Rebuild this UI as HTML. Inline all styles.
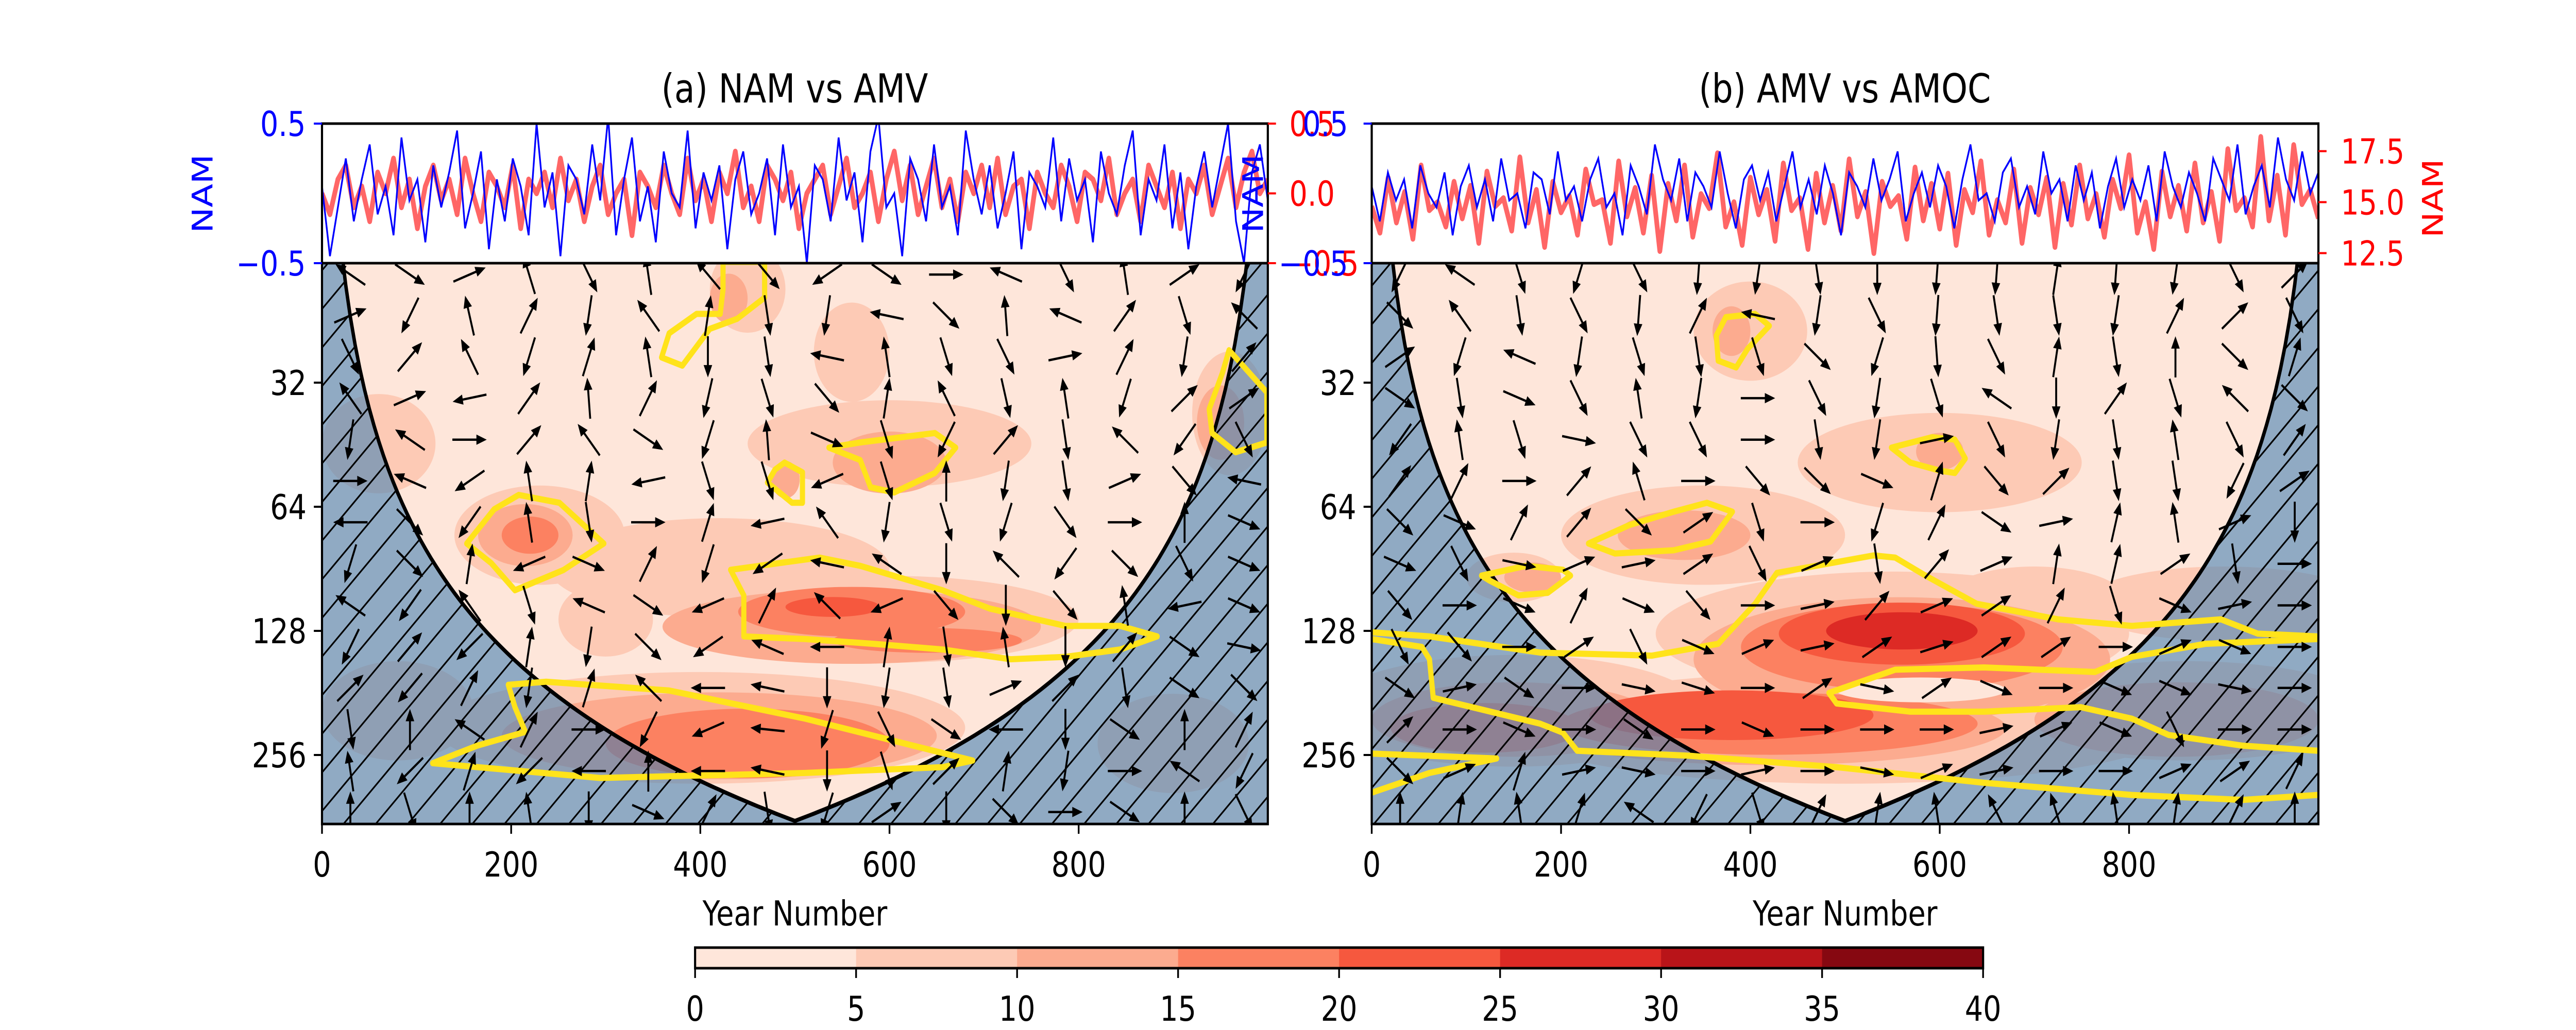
<!DOCTYPE html>
<html><head><meta charset="utf-8"><style>
html,body{margin:0;padding:0;background:#fff;width:100vw;height:100vh;overflow:hidden;}
svg{display:block;position:absolute;left:0;top:0;width:100vw;height:100vh;font-family:"DejaVu Sans","Liberation Sans",sans-serif;}
</style></head><body>
<svg id="fig" viewBox="0 0 6000 2000" preserveAspectRatio="none" xmlns="http://www.w3.org/2000/svg">
<defs>
<pattern id="hatch" patternUnits="userSpaceOnUse" width="75" height="75">
<path d="M-10,85 L85,-10 M-10,10 L10,-10 M65,85 L85,65" stroke="#000" stroke-width="3.5"/>
</pattern>
<clipPath id="clipA"><rect x="750" y="511" width="2203" height="1089"/></clipPath>
<clipPath id="clipB"><rect x="3195" y="511" width="2205" height="1089"/></clipPath>
<clipPath id="clipTA"><rect x="750" y="240" width="2203" height="271"/></clipPath>
<clipPath id="clipTB"><rect x="3195" y="240" width="2205" height="271"/></clipPath>
</defs>
</svg>
<script>
// ---------- data ----------
const levels = [0,5,10,15,20,25,30,35,40];
const levelColors = ['#fee6da','#fdcab5','#fcab8f','#fc8161','#f6583e','#dd2a25','#b91419','#860811'];
const yTicks = [32,64,128,256];
const xTicks = [0,200,400,600,800];

// time series panel (a)
const namA = [0.05,-0.45,-0.1,0.25,-0.2,0.1,0.35,-0.15,0.05,-0.3,0.4,-0.05,0.1,-0.35,0.2,-0.1,0.15,0.45,-0.25,0.0,0.3,-0.4,0.1,-0.2,0.25,0.05,-0.3,0.5,-0.1,0.15,-0.45,0.2,0.1,-0.15,0.35,-0.05,0.55,-0.3,0.1,0.4,-0.2,0.05,-0.35,0.3,0.0,-0.1,0.45,-0.25,0.15,-0.05,0.2,-0.4,0.1,0.3,-0.15,0.0,0.25,-0.3,0.35,-0.1,0.05,-0.5,0.2,0.1,-0.2,0.4,-0.05,0.15,-0.35,0.3,0.55,-0.1,0.0,-0.45,0.25,0.1,-0.2,0.35,-0.1,0.05,-0.3,0.45,0.1,-0.15,0.2,-0.25,0.0,0.3,-0.4,0.15,0.05,-0.1,0.4,-0.2,0.25,-0.05,0.1,-0.35,0.3,0.0,-0.15,0.2,0.45,-0.3,0.1,-0.05,0.35,-0.25,0.15,-0.4,0.05,0.3,-0.1,0.2,0.5,-0.2,-0.5,0.15,0.35,-0.05];
const amvA = [0.0,-0.15,0.1,0.2,-0.1,0.05,-0.2,0.15,0.0,0.25,-0.1,0.1,-0.25,0.05,0.2,-0.05,0.1,-0.15,0.25,0.0,-0.2,0.15,0.05,-0.1,0.2,-0.25,0.1,0.0,0.15,-0.1,0.25,-0.05,0.1,-0.2,0.05,0.2,-0.15,0.0,0.1,-0.3,0.15,0.05,-0.1,0.2,0.0,-0.15,0.25,-0.05,0.1,-0.2,0.15,0.0,0.3,-0.1,0.05,-0.2,0.2,0.1,-0.05,0.15,-0.25,0.0,0.1,0.2,-0.15,0.05,0.25,-0.1,0.0,0.15,-0.2,0.1,0.3,-0.05,0.2,-0.15,0.05,0.25,-0.1,0.1,-0.2,0.15,0.0,0.2,-0.1,0.25,-0.15,0.05,0.1,-0.25,0.15,0.0,-0.1,0.2,0.05,-0.2,0.15,0.1,-0.05,0.25,-0.15,0.0,0.1,-0.2,0.2,0.05,-0.1,0.15,-0.25,0.1,0.0,0.2,-0.15,0.05,0.25,-0.1,0.15,0.3,0.0,0.1];
// time series panel (b)
const amvB = [0.05,-0.2,0.15,-0.05,0.1,-0.25,0.2,0.0,-0.1,0.15,-0.3,0.05,0.2,-0.1,0.1,-0.2,0.25,-0.05,0.0,-0.25,0.15,0.1,-0.15,0.3,-0.05,0.05,-0.2,0.1,0.25,-0.1,0.0,-0.3,0.2,0.05,-0.15,0.35,0.1,-0.05,0.25,-0.2,0.15,0.05,-0.1,0.3,0.0,-0.25,0.1,0.2,-0.05,0.15,-0.2,0.05,0.3,-0.1,0.1,-0.15,0.2,0.0,-0.3,0.15,0.05,-0.1,0.25,-0.05,0.1,0.3,-0.2,0.0,0.15,-0.1,0.2,0.05,-0.25,0.1,0.35,-0.05,0.0,-0.2,0.15,0.25,-0.1,0.05,-0.15,0.3,0.0,0.1,-0.2,0.2,-0.05,0.15,-0.25,0.05,0.25,-0.1,0.1,-0.05,0.2,-0.2,0.3,0.05,-0.1,0.15,0.0,-0.2,0.25,0.1,-0.05,0.35,-0.15,0.05,0.2,-0.1,0.4,0.1,-0.05,0.3,0.0,0.15];
const amocB = [14.8,13.5,16.2,14.0,15.5,13.2,16.8,14.6,15.0,13.8,16.0,14.2,15.8,13.0,16.5,14.8,15.2,13.6,17.2,14.0,15.6,12.8,16.0,14.5,15.3,13.4,16.6,14.9,15.1,13.0,17.0,14.3,15.7,13.5,16.3,12.6,15.9,14.1,16.8,13.3,15.4,14.7,17.4,13.8,15.0,12.9,16.2,14.4,15.6,13.1,16.9,14.6,15.2,12.7,16.4,14.0,15.8,13.6,17.1,14.3,15.5,12.5,16.0,14.8,15.3,13.2,16.7,14.1,15.9,13.7,16.4,12.9,15.6,14.5,17.0,13.4,15.1,14.0,16.6,13.0,15.7,14.4,16.2,12.8,15.9,13.9,16.8,14.2,15.4,13.3,16.1,14.7,17.3,13.5,15.0,12.7,16.5,14.3,15.8,13.6,16.9,14.0,15.5,13.1,17.6,14.6,15.2,13.8,18.2,14.1,16.3,13.4,17.8,14.9,15.6,14.2];

// coherence blobs panel (a): year, period, half-width(years), half-height(octaves), level
const blobYearA   = [450,560,600,420,600,230,400,960,300,60,80,900, 430,215,600,490,560,420,950, 220,560,450,640, 540];
const blobPeriodA = [19,27,45,90,120,75,220,38,120,45,200,240, 20,75,50,55,125,230,40, 75,115,240,135, 112];
const blobRxA     = [40,40,150,180,200,90,280,40,50,60,80,80, 20,50,60,15,200,230,25, 30,120,150,100, 50];
const blobRyA     = [0.35,0.4,0.35,0.4,0.35,0.4,0.45,0.5,0.3,0.4,0.4,0.4, 0.2,0.25,0.25,0.15,0.3,0.35,0.3, 0.15,0.2,0.28,0.1, 0.08];
const blobLevelA  = [1,1,1,1,1,1,1,1,1,1,1,1, 2,2,2,2,2,2,2, 3,3,3,3, 4];
// coherence blobs panel (b)
const blobYearB   = [400,600,350,150,550,500,700,150,860,900, 380,600,330,170,560,420,150,850, 560,420,120, 560,380, 560, 580];
const blobPeriodB = [24,50,75,95,130,220,110,200,200,110, 24,47,75,95,150,220,210,210, 140,215,220, 130,205, 128, 178];
const blobRxB     = [60,150,150,50,250,350,100,200,200,150, 20,25,70,30,220,250,150,150, 170,220,100, 130,150, 80, 90];
const blobRyB     = [0.4,0.4,0.4,0.2,0.5,0.45,0.3,0.45,0.4,0.3, 0.2,0.15,0.2,0.12,0.5,0.3,0.3,0.3, 0.35,0.25,0.2, 0.25,0.2, 0.15, 0.1];
const blobLevelB  = [1,1,1,1,1,1,1,1,1,1, 2,2,2,2,2,2,2,2, 3,3,3, 4,4, 5, 0];

// significance contours (year, period)
const sigA1 = [[424,16.3],[468,16.3],[468,19.9],[439,22.4],[410,23.7],[381,29.1],[359,27.8],[367,24.3],[396,21.8],[421,21.8],[424,19.0]];
const sigA2 = [[959,26.7],[999,33.8],[999,44.7],[966,47.2],[941,42.4],[938,37.1],[952,30.3]];
const sigA3 = [[489,50.0],[508,52.8],[508,62.6],[497,62.6],[471,55.9],[479,52.0]];
const sigA4 = [[536,46.0],[569,44.7],[648,42.4],[670,46.0],[648,53.0],[605,59.1],[580,57.4],[569,49.3]];
const sigA5 = [[208,59.9],[251,62.6],[298,78.6],[255,91.2],[204,102],[179,87.7],[153,78.6],[182,64.9]];
const sigA6 = [[432,91],[526,85],[569,89],[656,102],[706,113],[786,124.5],[844,124.5],[883,132],[844,142],[786,148],[728,150],[656,142],[583,137.6],[511,134],[446,132],[446,105]];
const sigA7 = [[197,173],[237,170],[367,178.6],[511,209],[688,264],[656,274],[511,283],[294,291],[117,268],[164,243],[215,225],[204,196]];
const sigB1 = [[374,22.2],[405,21.8],[420,23.3],[397,26.5],[385,29.4],[366,28.3],[364,24.6]];
const sigB2 = [[549,46],[592,43.4],[616,44],[627,48.9],[616,53],[600,52.3],[569,50]];
const sigB3 = [[229,78.6],[272,70.9],[319,65.8],[354,62.6],[381,65.8],[358,77.7],[319,81.6],[257,83.1]];
const sigB4 = [[116,94],[163,89],[202,91],[210,94],[186,103.5],[155,105],[124,96.5]];
const sigB5 = [[0,129],[61,132],[178,144.5],[296,147],[366,137.6],[405,110],[428,92.6],[530,84],[553,85],[585,94],[639,110],[725,120],[803,124.5],[897,120],[936,130],[999,132]];
const sigB6 = [[0,134],[53,140],[61,150],[65,186],[178,215],[202,226],[217,250],[335,257],[491,274],[647,299],[803,320],[920,329],[999,320]];
const sigB7 = [[999,134],[881,137.6],[803,148],[764,161],[647,157],[553,159],[483,181],[491,192],[569,201],[647,201],[749,196],[803,209],[842,229],[920,243],[999,250]];
const sigB8 = [[0,254],[132,261],[61,283],[0,316]];
const sigLinesA = [sigA1,sigA2,sigA3,sigA4,sigA5,sigA6,sigA7];
const sigLinesB = [sigB1,sigB2,sigB3,sigB4,sigB5,sigB6,sigB7,sigB8];

// phase arrows: grid rows (periods) x cols (years), angles in degrees
const arrowPeriods = [17.5,22,27.7,34.9,44,55.4,69.8,88,111,140,176,222,280,352];
const arrowYears = [30,93,156,219,282,345,408,471,534,597,660,723,786,849,912,975];
const phaseA = [
[150,-30,20,110,-60,100,135,-45,-150,-30,0,160,-60,100,30,-120],
[20,-120,105,60,-100,130,80,-80,-100,170,-40,95,160,50,-70,140],
[-60,45,120,-110,70,100,-90,-80,170,100,-70,-60,10,60,-100,45],
[130,20,-170,50,95,60,-105,-70,-45,80,120,-75,100,-110,40,30],
[-100,150,0,45,130,-30,-110,95,-20,-70,-120,45,-80,140,-130,-60],
[0,160,-150,100,80,-170,-70,-70,-160,-70,90,-100,-80,20,-45,170],
[180,-40,-130,100,-80,0,70,-170,130,-100,-70,-110,-50,0,90,-20],
[-110,-40,80,-160,-20,60,-110,-150,170,150,-90,140,-130,-40,-60,-20],
[150,-130,130,-70,160,-30,-160,60,140,-160,-45,-90,-45,100,-170,-20],
[-120,45,-140,80,-100,-40,-150,160,180,80,-80,100,-90,45,-30,-10],
[40,-135,60,-100,70,140,180,170,-90,-100,-80,20,40,-80,-30,-40],
[-80,90,150,60,0,-120,-160,175,-110,-60,-30,180,-90,-30,90,60],
[100,-140,70,-140,180,90,180,170,-90,-70,40,80,-100,0,150,-120],
[90,-70,90,100,-90,-20,60,-80,-110,30,-90,-40,0,-30,90,-60]];
const phaseB = [
[-120,150,-70,-110,-60,-95,-100,-80,-90,-95,-95,80,-95,-100,-60,40],
[-40,130,-80,-60,-95,60,170,-100,-60,-95,-80,-80,-100,60,40,-60],
[30,-110,160,-100,-70,-80,-70,-40,-110,-85,-60,80,-80,90,-40,70],
[-30,-80,-20,-60,100,-100,0,-60,-100,-70,150,-90,50,-70,140,-40],
[-130,100,-70,-10,-60,-60,0,-80,-100,10,-60,-100,-80,100,-60,50],
[50,60,0,45,110,0,-45,-40,-20,70,-45,40,-80,-80,-120,30],
[-40,-20,60,45,-40,30,-70,0,-110,60,-30,10,75,100,20,-90],
[-20,-60,-10,20,10,30,-60,20,-80,45,20,80,75,30,-80,0],
[-45,0,-20,60,-20,-45,0,10,45,20,30,60,-70,-20,10,0],
[-60,-45,0,30,-60,-20,20,10,30,15,30,30,0,20,-20,0],
[-30,10,-30,0,-10,-15,0,30,-10,30,-20,0,-20,-20,-10,0],
[40,0,-20,0,-30,0,-20,0,0,0,10,20,-20,-60,0,0],
[-40,20,70,10,-10,0,10,0,-10,20,10,0,0,20,30,60],
[90,80,100,70,150,-120,-70,60,80,100,120,110,100,80,60,90]];

// ---------- drawing ----------
const NS='http://www.w3.org/2000/svg';
const svg=document.getElementById('fig');
function el(tag,attrs,parent){const e=document.createElementNS(NS,tag);for(const k in attrs)e.setAttribute(k,attrs[k]);(parent||svg).appendChild(e);return e;}
function txt(s,x,y,size,fill,anchor,parent,rot){const t=el('text',{x:x,y:y,'font-size':size,fill:fill,'text-anchor':anchor||'middle'},parent);if(rot)t.setAttribute('transform','rotate('+rot+' '+x+' '+y+')');t.textContent=s;return t;}

const TOP=240, MID=511, BOT=1600;
const Y32=743, OCT=241, P_TOP=16.4, P_BOT=375;
function yP(p){return Y32+Math.log2(p/32)*OCT;}
function makeX(L,W){return y=>L+y/1000*W;}

function panel(id,L,W,clip,clipT,blobs,sig,phase,ts){
  const xY=makeX(L,W);
  const g=el('g',{'clip-path':'url(#'+clip+')'});
  
  
  el('rect',{x:L,y:MID,width:W,height:BOT-MID,fill:levelColors[0]},g);
  const [by,bp,brx,bry,bl]=blobs;
  const order=[...bl.keys()].sort((a,b)=>(bl[a]===0?99:bl[a])-(bl[b]===0?99:bl[b]));
  for(const i of order){
    const e=el('ellipse',{cx:xY(by[i]),cy:yP(bp[i]),rx:brx[i]/1000*W,ry:bry[i]*OCT,fill:levelColors[bl[i]]},g);
    
    
  }
  let cone='';
  for(let t=0;t<=1000;t+=5){const p=Math.max(P_TOP*0.9,Math.min(0.74*Math.min(t,1000-t),P_BOT*1.05));cone+=(t?'L':'M')+xY(t).toFixed(1)+','+yP(p).toFixed(1);}
  const outer='M'+L+','+MID+'H'+(L+W)+'V'+BOT+'H'+L+'Z';
  const coi=el('path',{d:outer+cone+'Z','fill-rule':'evenodd',fill:'rgba(70,130,180,0.6)'},g);
  
  
  el('path',{d:outer+cone+'Z','fill-rule':'evenodd',fill:'url(#hatch)'},g);
  el('path',{d:cone,fill:'none',stroke:'#000','stroke-width':8},g);
  for(const line of sig){
    const closed = line[0][0]>1 && line[0][0]<998;
    const c=el('path',{d:line.map((q,i)=>(i?'L':'M')+xY(q[0]).toFixed(1)+','+yP(q[1]).toFixed(1)).join('')+(closed?'Z':''),fill:'none',stroke:'#ffe31a','stroke-width':12,'stroke-linejoin':'round'},g);
    
    
  }
  for(let r=0;r<arrowPeriods.length;r++)for(let c=0;c<arrowYears.length;c++){
    const a=phase[r][c]*Math.PI/180, cx=xY(arrowYears[c]), cy=yP(arrowPeriods[r]);
    const dx=Math.cos(a), dy=-Math.sin(a), Lh=40;
    const x2=cx+dx*Lh, y2=cy+dy*Lh, x1=cx-dx*Lh, y1=cy-dy*Lh;
    const ag=el('g',{},g);
    
    
    el('line',{x1:x1,y1:y1,x2:x2-dx*10,y2:y2-dy*10,stroke:'#000','stroke-width':4.5},ag);
    const hx=x2-dx*24, hy=y2-dy*24;
    el('polygon',{points:x2+','+y2+' '+(hx-dy*10)+','+(hy+dx*10)+' '+(hx+dy*10)+','+(hy-dx*10),fill:'#000'},ag);
  }
  const tg=el('g',{'clip-path':'url(#'+clipT+')'});
  
  
  el('rect',{x:L,y:TOP,width:W,height:MID-TOP,fill:'#fff'},tg);
  const [blue,bMap,red,rMap]=ts;
  const line=(arr,map)=>arr.map((v,i)=>(i?'L':'M')+xY(i/(arr.length-1)*1000).toFixed(1)+','+map(v).toFixed(1)).join('');
  const rl=el('path',{d:line(red,rMap),fill:'none',stroke:'rgba(255,0,0,0.6)','stroke-width':11,'stroke-linejoin':'round'},tg);
  
  
  const bline=el('path',{d:line(blue,bMap),fill:'none',stroke:'#0000ff','stroke-width':4},tg);
  
  
  el('rect',{x:L,y:TOP,width:W,height:MID-TOP,fill:'none',stroke:'#000','stroke-width':5});
  el('rect',{x:L,y:MID,width:W,height:BOT-MID,fill:'none',stroke:'#000','stroke-width':5});
  for(const t of xTicks){const x=xY(t);el('line',{x1:x,y1:BOT,x2:x,y2:BOT+19,stroke:'#000','stroke-width':4});
    const tl=txt(String(t),x,1702,66.7,'#000');}
  for(const p of yTicks){const y=yP(p);el('line',{x1:L-19,y1:y,x2:L,y2:y,stroke:'#000','stroke-width':4});
    const tl=txt(String(p),L-36,y+24,66.7,'#000','end');}
  const xl=txt('Year Number',L+W/2,1797,66.7,'#000');
  
  
  return xY;
}

const mapPM=v=>MID-(v+0.5)*(MID-TOP);
const mapAmoc=v=>392.5-(v-15)*39.6;

panel('a',750,2203,'clipA','clipTA',[blobYearA,blobPeriodA,blobRxA,blobRyA,blobLevelA],sigLinesA,phaseA,[namA,mapPM,amvA,mapPM]);
panel('b',3195,2205,'clipB','clipTB',[blobYearB,blobPeriodB,blobRxB,blobRyB,blobLevelB],sigLinesB,phaseB,[amvB,mapPM,amocB,mapAmoc]);

function tick(x1,x2,y,col){el('line',{x1:x1,y1:y,x2:x2,y2:y,stroke:col,'stroke-width':4});}
[[0.5,'0.5'],[-0.5,'\u22120.5']].forEach(([v,s])=>{const y=mapPM(v);tick(731,750,y,'#00f');const t=txt(s,712,y+24,66.7,'#00f','end');});
[[0.5,'0.5'],[0,'0.0'],[-0.5,'\u22120.5']].forEach(([v,s])=>{const y=mapPM(v);tick(2953,2972,y,'#f00');const t=txt(s,3003,y+24,66.7,'#f00','start');});
[[0.5,'0.5'],[-0.5,'\u22120.5']].forEach(([v,s])=>{const y=mapPM(v);tick(3176,3195,y,'#00f');const t=txt(s,3140,y+24,66.7,'#00f','end');});
[[17.5,'17.5'],[15,'15.0'],[12.5,'12.5']].forEach(([v,s])=>{const y=mapAmoc(v);tick(5400,5419,y,'#f00');const t=txt(s,5452,y+24,66.7,'#f00','start');});
let t;
t=txt('NAM',495,376,66.7,'#00f','middle',null,-90);
t=txt('NAM',2942,376,66.7,'#00f','middle',null,-90);
t=txt('NAM',5690,385,66.7,'#f00','middle',null,-90);
t=txt('(a) NAM vs AMV',1851,199,77.8,'#000');
t=txt('(b) AMV vs AMOC',4297,199,77.8,'#000');

const CBL=1619, CBW=3000, CBT=1840, CBH=40;
const cb=el('g',{});


const cbx=v=>CBL+(v-levels[0])/(levels[levels.length-1]-levels[0])*CBW;
for(let i=0;i<levels.length-1;i++){
  const r=el('rect',{x:cbx(levels[i]),y:CBT,width:cbx(levels[i+1])-cbx(levels[i])+0.5,height:CBH,fill:levelColors[i]},cb);
  
  
}
el('rect',{x:CBL,y:CBT,width:CBW,height:CBH,fill:'none',stroke:'#000','stroke-width':5},cb);
for(const v of levels){const x=cbx(v);el('line',{x1:x,y1:CBT+CBH,x2:x,y2:CBT+CBH+19,stroke:'#000','stroke-width':4},cb);
  const l=txt(String(v),x,1982,66.7,'#000','middle',cb);}
</script>
</body></html>
